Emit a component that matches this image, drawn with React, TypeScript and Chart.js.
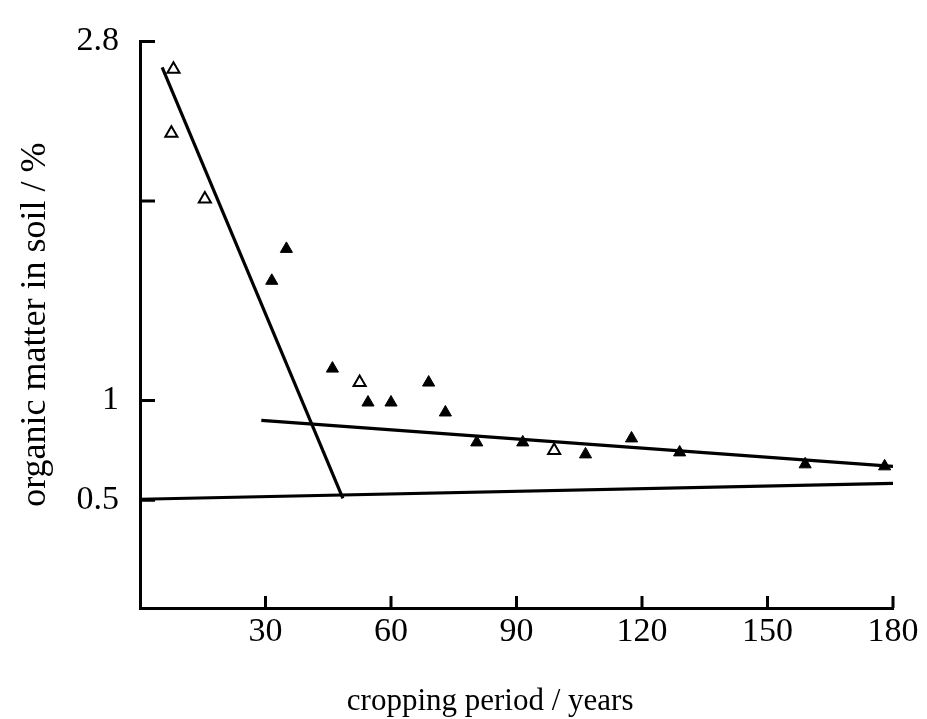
import React, { useEffect, useRef } from "react";
import { Chart, registerables } from "chart.js";

Chart.register(...registerables);

// ---- data ----
const openX = [8, 7.5, 15.5, 52.5, 99];
const openY = [2.66, 2.34, 2.01, 1.09, 0.75];

const filledX = [31.5, 35, 46, 54.5, 60, 69, 73, 80.5, 91.5, 106.5, 117.5, 129, 159, 178];
const filledY = [1.6, 1.76, 1.16, 0.99, 0.99, 1.09, 0.94, 0.79, 0.79, 0.73, 0.81, 0.74, 0.68, 0.67];

const steepLineX = [5.3, 48.5];
const steepLineY = [2.67, 0.51];

const slopeLineX = [29, 180];
const slopeLineY = [0.9, 0.67];

const baseLineX = [0, 180];
const baseLineY = [0.505, 0.585];

const xTickValues = [30, 60, 90, 120, 150, 180];
const xTickLabels = ["30", "60", "90", "120", "150", "180"];
const yTickValues = [0.5, 1, 2, 2.8];
const yTickLabels = ["0.5", "1", "", "2.8"];

const xTitle = "cropping period / years";
const yTitle = "organic matter in soil / %";

const FONT = "'Liberation Serif', 'DejaVu Serif', 'Times New Roman', serif";

const toPts = (xs: number[], ys: number[]) => xs.map((x, i) => ({ x, y: ys[i] }));

const inwardTicks = {
  id: "inwardTicks",
  afterDraw(chart: any) {
    const { ctx, chartArea, scales } = chart;
    const x = scales.x;
    const y = scales.y;
    ctx.save();
    ctx.strokeStyle = "#000";
    ctx.lineWidth = 3;
    ctx.beginPath();
    xTickValues.forEach((v) => {
      const px = x.getPixelForValue(v);
      ctx.moveTo(px, chartArea.bottom);
      ctx.lineTo(px, chartArea.bottom - 12);
    });
    yTickValues.forEach((v) => {
      const py = y.getPixelForValue(v);
      ctx.moveTo(chartArea.left, py);
      ctx.lineTo(chartArea.left + 15, py);
    });
    ctx.stroke();
    ctx.fillStyle = "#000";
    ctx.font = `31px ${FONT}`;
    ctx.textAlign = "center";
    ctx.textBaseline = "alphabetic";
    ctx.fillText(xTitle, chartArea.left + chartArea.width * 0.465, 710);
    ctx.restore();
  },
};

export default function App() {
  const ref = useRef<HTMLCanvasElement | null>(null);

  useEffect(() => {
    if (!ref.current) return;
    Chart.defaults.font.family = FONT;
    Chart.defaults.color = "#000";
    const lineDs = (xs: number[], ys: number[], w: number) => ({
      data: toPts(xs, ys),
      showLine: true,
      borderColor: "#000",
      borderWidth: w,
      pointRadius: 0,
      fill: false,
    });
    const chart = new Chart(ref.current, {
      type: "scatter",
      data: {
        datasets: [
          lineDs(steepLineX, steepLineY, 3.2),
          lineDs(slopeLineX, slopeLineY, 3.2),
          lineDs(baseLineX, baseLineY, 3.2),
          {
            data: toPts(filledX, filledY),
            pointStyle: "triangle",
            pointRadius: 7,
            pointBackgroundColor: "#000",
            pointBorderColor: "#000",
            pointBorderWidth: 1,
          },
          {
            data: toPts(openX, openY),
            pointStyle: "triangle",
            pointRadius: 7,
            pointBackgroundColor: "#fff",
            pointBorderColor: "#000",
            pointBorderWidth: 2,
          },
        ],
      },
      options: {
        animation: false,
        responsive: false,
        devicePixelRatio: 1,
        layout: { padding: { top: 34, right: 34, left: 0, bottom: 0 } },
        plugins: { legend: { display: false }, tooltip: { enabled: false } },
        scales: {
          x: {
            type: "linear",
            min: 0,
            max: 180,
            grid: { display: false, drawTicks: false },
            border: { display: true, color: "#000", width: 3 },
            afterBuildTicks: (axis: any) => {
              axis.ticks = xTickValues.map((v) => ({ value: v }));
            },
            afterFit: (scale: any) => {
              scale.height = 111;
            },
            ticks: {
              autoSkip: false,
              maxRotation: 0,
              padding: 4,
              font: { size: 34 },
              color: "#000",
              callback: (v: any) => {
                const i = xTickValues.indexOf(Number(v));
                return i >= 0 ? xTickLabels[i] : "";
              },
            },
          },
          y: {
            type: "linear",
            min: -0.04,
            max: 2.8,
            grid: { display: false, drawTicks: false },
            border: { display: true, color: "#000", width: 3 },
            afterBuildTicks: (axis: any) => {
              axis.ticks = yTickValues.map((v) => ({ value: v }));
            },
            afterFit: (scale: any) => {
              scale.width = 140;
            },
            ticks: {
              autoSkip: false,
              padding: 21,
              font: { size: 34 },
              color: "#000",
              callback: (v: any) => {
                const i = yTickValues.indexOf(Number(v));
                return i >= 0 ? yTickLabels[i] : "";
              },
            },
            title: {
              display: true,
              text: yTitle,
              color: "#000",
              font: { size: 36 },
              padding: { top: 14, bottom: 0 },
            },
          },
        },
      },
      plugins: [inwardTicks],
    });
    return () => chart.destroy();
  }, []);

  return (
    <div style={{ position: "absolute", left: 0, top: 0, width: 927, height: 719, background: "#fff" }}>
      <canvas ref={ref} width={927} height={719} />
    </div>
  );
}
